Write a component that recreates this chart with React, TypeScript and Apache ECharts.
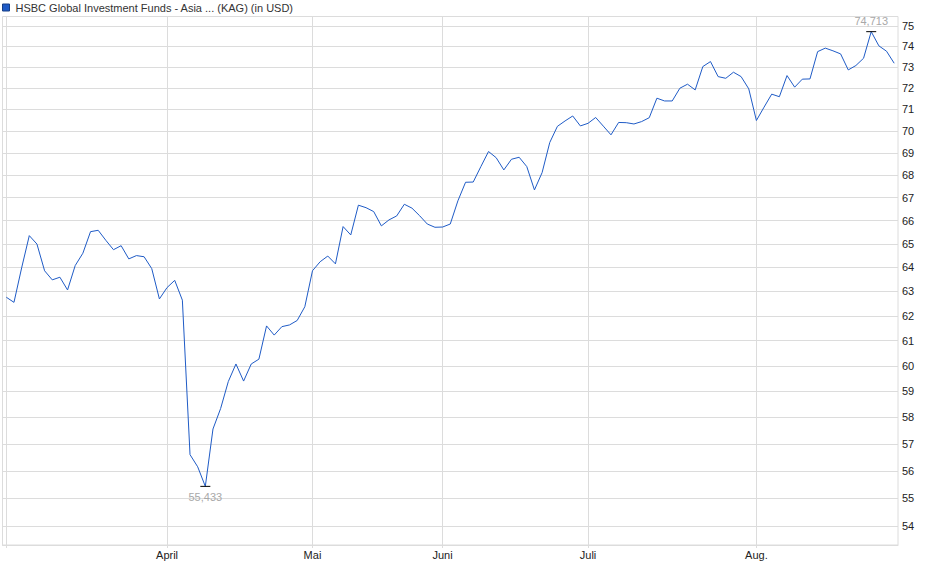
import React, { useEffect, useRef } from "react";
import * as echarts from "echarts";

const TITLE = "HSBC Global Investment Funds - Asia ... (KAG) (in USD)";

// Fund price (USD), one value per valuation day, March to late August
const prices: number[] = [
  62.76, 62.55, 63.98, 65.35, 64.99, 63.86, 63.48, 63.59, 63.06, 64.08,
  64.6, 65.52, 65.58, 65.15, 64.75, 64.92, 64.36, 64.5, 64.45, 63.95,
  62.69, 63.16, 63.46, 62.64, 56.6, 56.15, 55.433, 57.56, 58.34, 59.38,
  60.07, 59.4, 60.07, 60.26, 61.59, 61.22, 61.56, 61.63, 61.81, 62.37,
  63.86, 64.24, 64.48, 64.15, 65.74, 65.38, 66.67, 66.56, 66.39, 65.77,
  66.03, 66.2, 66.71, 66.54, 66.21, 65.85, 65.71, 65.72, 65.85, 66.86,
  67.68, 67.69, 68.38, 69.06, 68.78, 68.23, 68.71, 68.8, 68.38, 67.34,
  68.11, 69.47, 70.21, 70.46, 70.69, 70.23, 70.35, 70.62, 70.22, 69.82,
  70.39, 70.38, 70.32, 70.43, 70.61, 71.52, 71.39, 71.39, 71.99, 72.18,
  71.91, 73.02, 73.26, 72.54, 72.46, 72.75, 72.54, 71.96, 70.48, 71.1,
  71.71, 71.59, 72.59, 72.04, 72.42, 72.43, 73.74, 73.91, 73.78, 73.63,
  72.86, 73.07, 73.42, 74.713, 74.02, 73.76, 73.18,
];

// Month boundaries (index of first valuation day of each month)
const monthLabels = ["April", "Mai", "Juni", "Juli", "Aug."];
const monthStartIdx = [21, 40, 57, 76, 98];
const marchStartIdx = 0;

// Right-hand price axis (logarithmic)
const yTicks = [
  54, 55, 56, 57, 58, 59, 60, 61, 62, 63, 64, 65, 66, 67, 68, 69, 70, 71, 72,
  73, 74, 75,
];
const yMin = 53.34;
const yMax = 75.46;

const fmt = (v: number) => v.toFixed(3).replace(".", ",");

export default function App() {
  const ref = useRef<HTMLDivElement>(null);

  useEffect(() => {
    if (!ref.current) return;
    const chart = echarts.init(ref.current, null, { renderer: "svg" });

    let minI = 0;
    let maxI = 0;
    prices.forEach((v, i) => {
      if (v < prices[minI]) minI = i;
      if (v > prices[maxI]) maxI = i;
    });

    const gridColor = "#dcdcdc";
    const font = "'Liberation Sans', Arial, sans-serif";

    chart.setOption({
      animation: false,
      backgroundColor: "#ffffff",
      textStyle: { fontFamily: font },
      legend: {
        left: 2,
        top: 2,
        padding: 0,
        itemWidth: 7,
        itemHeight: 7,
        icon: "rect",
        selectedMode: false,
        textStyle: { fontSize: 11, color: "#333", fontFamily: font, padding: [0, 0, 0, 1] },
        data: [{ name: TITLE, itemStyle: { color: "#1f5bc6", borderColor: "#173f86", borderWidth: 1 } }],
      },
      grid: {
        left: 2.5,
        right: 42,
        top: 16.5,
        bottom: 34,
        show: true,
        borderColor: gridColor,
        borderWidth: 1,
        containLabel: false,
      },
      xAxis: {
        type: "value",
        min: -0.5,
        max: prices.length - 0.5,
        axisLine: { show: true, lineStyle: { color: gridColor } },
        axisTick: {
          show: true,
          length: 3,
          lineStyle: { color: gridColor },
          customValues: [marchStartIdx, ...monthStartIdx],
        },
        axisLabel: {
          customValues: monthStartIdx,
          formatter: (v: number) => monthLabels[monthStartIdx.indexOf(Math.round(v))] ?? "",
          fontSize: 11,
          color: "#222",
          margin: 4,
          fontFamily: font,
        },
        splitLine: { show: true, lineStyle: { color: gridColor, width: 1 } },
      },
      yAxis: {
        type: "log",
        logBase: 10,
        position: "right",
        min: yMin,
        max: yMax,
        axisLine: { show: false },
        axisTick: { show: false, customValues: yTicks },
        axisLabel: {
          customValues: yTicks,
          formatter: (v: number) => String(Math.round(v)),
          fontSize: 11,
          color: "#222",
          margin: 4,
          fontFamily: font,
        },
        splitLine: { show: true, lineStyle: { color: gridColor, width: 1 } },
      },
      series: [
        {
          name: TITLE,
          type: "line",
          data: prices.map((v, i) => [i, v]),
          showSymbol: false,
          symbol: "none",
          lineStyle: { color: "#1f5bc6", width: 1 },
          itemStyle: { color: "#1f5bc6" },
          markPoint: {
            symbol: "rect",
            symbolSize: [10, 1],
            itemStyle: { color: "#000" },
            silent: true,
            data: [
              {
                coord: [maxI, prices[maxI]],
                value: prices[maxI],
                label: {
                  show: true,
                  position: "top",
                  distance: 5,
                  formatter: fmt(prices[maxI]),
                  color: "#a8a8a8",
                  fontSize: 11,
                  fontFamily: font,
                },
              },
              {
                coord: [minI, prices[minI]],
                value: prices[minI],
                label: {
                  show: true,
                  position: "bottom",
                  distance: 5,
                  formatter: fmt(prices[minI]),
                  color: "#a8a8a8",
                  fontSize: 11,
                  fontFamily: font,
                },
              },
            ],
          },
        },
      ],
    });

    return () => chart.dispose();
  }, []);

  return (
    <div
      ref={ref}
      style={{ position: "fixed", left: 0, top: 0, width: 940, height: 579 }}
    />
  );
}
